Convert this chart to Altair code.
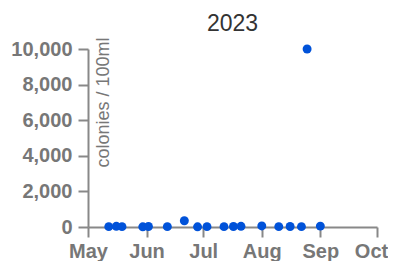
import altair as alt
import pandas as pd

dates = ["2023-05-12", "2023-05-16", "2023-05-19", "2023-05-30", "2023-06-02",
         "2023-06-12", "2023-06-21", "2023-06-28", "2023-07-03", "2023-07-12",
         "2023-07-17", "2023-07-21", "2023-08-01", "2023-08-10", "2023-08-16",
         "2023-08-22", "2023-08-25", "2023-09-01"]
values = [20, 40, 20, 10, 30, 20, 350, 10, 20, 20, 30, 40, 60, 20, 30, 20, 10000, 50]

df = pd.DataFrame({"date": pd.to_datetime(dates), "colonies": values})

FONT = "Liberation Sans"

chart = alt.Chart(df).mark_circle(size=80, opacity=1, color="#0052d9").encode(
    x=alt.X("date:T",
            scale=alt.Scale(domain=["2023-05-01T00:00:00", "2023-10-01T00:00:00"]),
            axis=alt.Axis(title=None, format="%b", tickCount="month", grid=False,
                          labelFont=FONT, labelFontSize=20, labelFontWeight="bold",
                          labelColor="#777777", domainColor="#888888", tickColor="#888888",
                          tickSize=10, domainWidth=2, tickWidth=2, labelPadding=4,
                          labelAlign="center", labelFlush=False,
                          labelOffset={"condition": {"test": "month(datum.value) == 9",
                                                     "value": -6},
                                       "value": 0})),
    y=alt.Y("colonies:Q",
            scale=alt.Scale(domain=[0, 10000], nice=False),
            axis=alt.Axis(title="colonies / 100ml", values=[0, 2000, 4000, 6000, 8000, 10000],
                          format=",.0f", grid=False,
                          labelFont=FONT, labelFontSize=20, labelFontWeight="bold",
                          labelColor="#777777", domainColor="#888888", tickColor="#888888",
                          tickSize=10, domainWidth=2, tickWidth=2, labelPadding=6,
                          titleFont=FONT, titleFontSize=18, titleFontWeight="normal",
                          titleColor="#777777", titleAngle=-90, titleAlign="right",
                          titleBaseline="top", titleX=6, titleY=-12)),
).properties(
    width=289, height=178,
    title=alt.TitleParams("2023", font=FONT, fontSize=23, fontWeight="normal",
                          color="#333333", offset=1),
    autosize=alt.AutoSizeParams(type="none"),
    padding={"left": 80, "top": 41, "right": 11, "bottom": 34},
).configure_view(stroke=None)

chart.save("out.html", embed_options={"renderer": "svg", "actions": False})
